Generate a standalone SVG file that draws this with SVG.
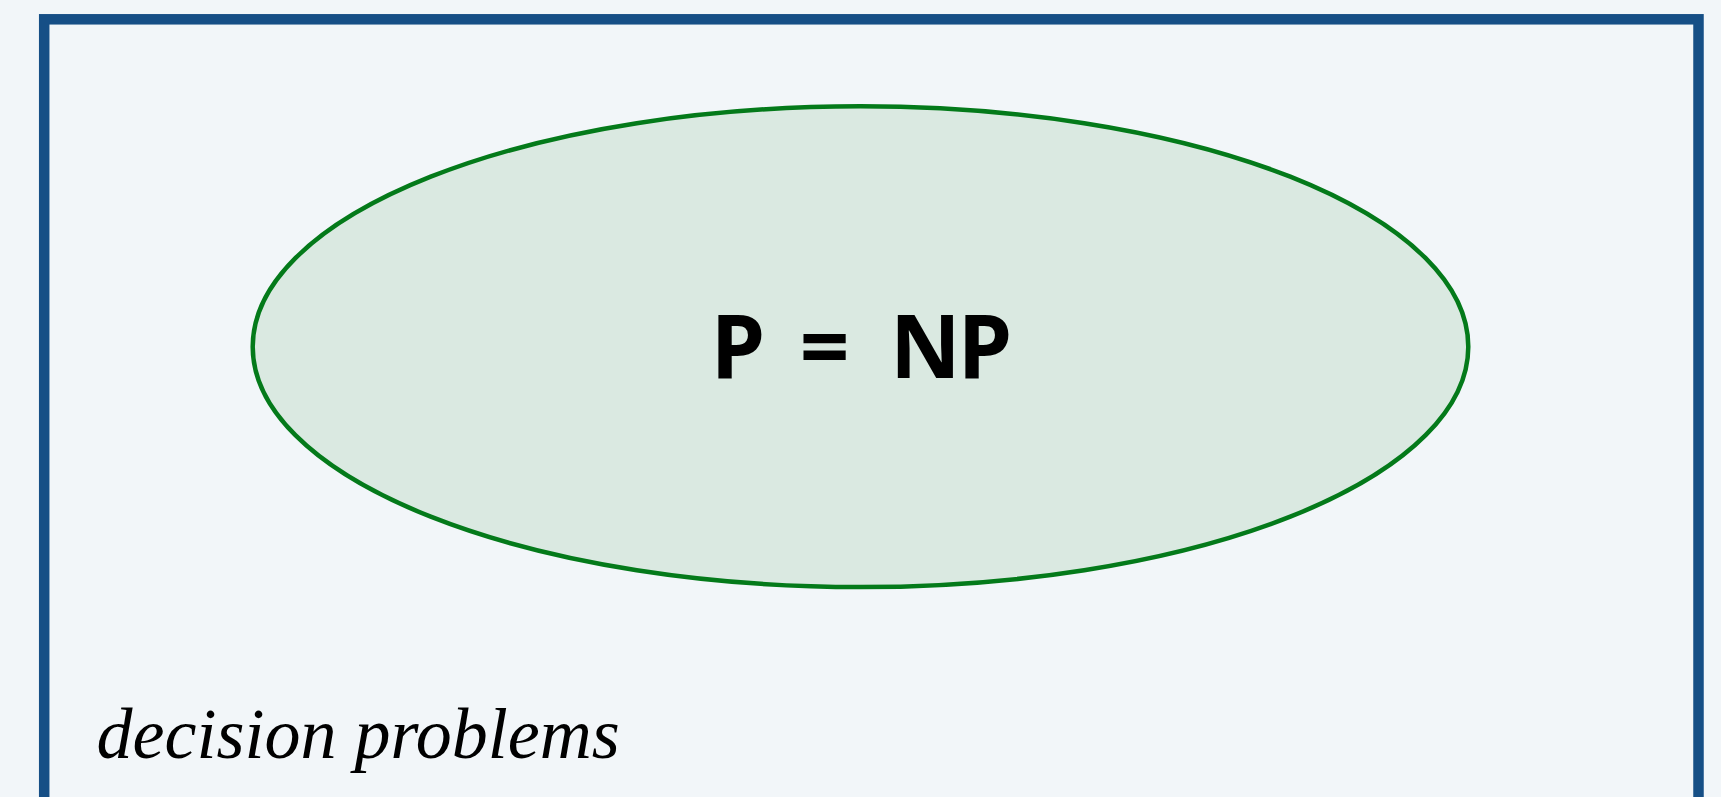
<svg xmlns="http://www.w3.org/2000/svg" width="1721" height="797" viewBox="0 0 1721 797">
  <style>
    .bg { fill: #f2f6f9; }
    .frame { fill: #f2f6f9; stroke: #164f86; stroke-width: 10.5; }
    .set { fill: #dae9e1; stroke: #047a1a; stroke-width: 4.5; }
    .big { font-family: "Noto Sans", "Open Sans", "DejaVu Sans", sans-serif; font-weight: bold; font-size: 87px; fill: #000; }
    .lbl { font-family: "Liberation Serif", "Times New Roman", serif; font-style: italic; font-size: 72px; fill: #000; }
  </style>
  <rect class="bg" x="0" y="0" width="1721" height="797"/>
  <g id="decision-problems">
    <rect class="frame" x="44.2" y="19.3" width="1654.3" height="820"/>
    <text class="lbl" x="96.5" y="758">decision problems</text>
  </g>
  <g id="p-np">
    <ellipse class="set" cx="860.5" cy="346.7" rx="607.8" ry="240.4"/>
    <text class="big" x="711 760 799.7 850 890 958" y="378.3">P = NP</text>
  </g>
  <g id="connectors"/>
</svg>
